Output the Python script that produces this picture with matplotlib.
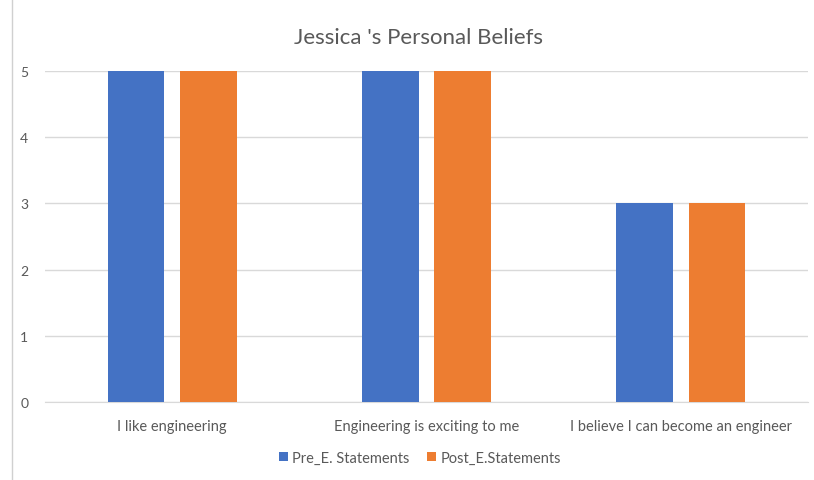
import matplotlib.pyplot as plt
import numpy as np

categories = ["I like engineering", "Engineering is exciting to me", "I believe I can become an engineer"]
pre_values = [5, 5, 3]
post_values = [5, 5, 3]
series_names = ["Pre_E. Statements", "Post_E.Statements"]

plt.rcParams['font.family'] = ['Lato', 'DejaVu Sans']
grey = '#595959'

fig = plt.figure(figsize=(8.14, 4.81), dpi=100)
ax = fig.add_axes([0.0553, 0.1622, 0.9373, 0.6881])

x = np.arange(len(categories))
w = 0.222
ax.bar(x - 0.142, pre_values, w, color='#4472c4', label=series_names[0], zorder=3)
ax.bar(x + 0.142, post_values, w, color='#ed7d31', label=series_names[1], zorder=3)

ax.set_xlim(-0.5, 2.5)
ax.set_ylim(0, 5)
ax.set_yticks(range(6))
ax.set_xticks(x)
ax.set_xticklabels(categories, fontsize=10.5)
ax.grid(axis='y', color='#d9d9d9', linewidth=1, zorder=0)
for s in ['top', 'right', 'left']:
    ax.spines[s].set_visible(False)
ax.spines['bottom'].set_color('#d9d9d9')
ax.tick_params(length=0, colors=grey)
ax.tick_params(axis='y', labelsize=10, pad=12)
ax.tick_params(axis='x', pad=12)

fig.text(0.514, 0.921, "Jessica 's Personal Beliefs", ha='center', va='center',
         fontsize=16, color=grey)

fig.legend(loc='center', bbox_to_anchor=(0.516, 0.046), ncol=2, frameon=False,
           fontsize=10.5, labelcolor=grey, handlelength=0.6, handleheight=0.6,
           handletextpad=0.3, columnspacing=1.2)

# left border of the chart area
fig.add_artist(plt.Line2D([0.0147, 0.0147], [0, 1], color='#d0d0d0', linewidth=1,
                          transform=fig.transFigure))

plt.savefig('out.png', dpi=100)
